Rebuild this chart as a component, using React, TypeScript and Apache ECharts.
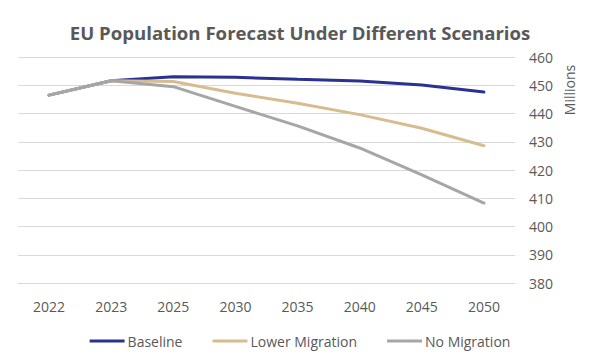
import React, { useEffect, useRef } from "react";
import * as echarts from "echarts";

const years = ["2022", "2023", "2025", "2030", "2035", "2040", "2045", "2050"];
const baseline = [446.5, 451.6, 453.0, 452.8, 452.1, 451.5, 450.1, 447.6];
const lowerMigration = [446.5, 451.6, 451.3, 447.2, 443.6, 439.6, 434.8, 428.6];
const noMigration = [446.5, 451.6, 449.5, 442.5, 435.6, 427.8, 418.3, 408.3];
const seriesNames = ["Baseline", "Lower Migration", "No Migration"];
const colors = ["#2B3190", "#D5BD8F", "#A6A6A6"];

const FONT = "'Open Sans', 'Noto Sans', sans-serif";

export default function App() {
  const ref = useRef<HTMLDivElement>(null);
  useEffect(() => {
    if (!ref.current) return;
    const chart = echarts.init(ref.current, undefined, { renderer: "svg" });
    const data = [baseline, lowerMigration, noMigration];
    chart.setOption({
      animation: false,
      backgroundColor: "#ffffff",
      title: {
        text: "EU Population Forecast Under Different Scenarios",
        left: "center",
        top: 18,
        textStyle: { fontFamily: FONT, fontSize: 18.6, fontWeight: "bold", color: "#595959" },
      },
      grid: { left: 18, right: 85, top: 57, bottom: 77 },
      legend: {
        bottom: 7,
        left: "center",
        itemWidth: 35,
        itemHeight: 3,
        itemGap: 30,
        icon: "rect",
        textStyle: { fontFamily: FONT, fontSize: 14, color: "#595959", padding: [0, 0, 0, -2] },
        data: seriesNames,
      },
      xAxis: {
        type: "category",
        data: years,
        boundaryGap: true,
        axisLine: { lineStyle: { color: "#D9D9D9", width: 1 } },
        axisTick: { show: false },
        axisLabel: { fontFamily: FONT, fontSize: 14, color: "#595959", margin: 16 },
      },
      yAxis: {
        type: "value",
        position: "right",
        min: 380,
        max: 460,
        interval: 10,
        axisLine: { show: false },
        axisTick: { show: false },
        axisLabel: { fontFamily: FONT, fontSize: 14, color: "#595959", margin: 14 },
        splitLine: { lineStyle: { color: "#D9D9D9", width: 1 } },
      },
      graphic: [
        {
          type: "text",
          x: 569,
          y: 90,
          rotation: Math.PI / 2,
          style: {
            text: "Millions",
            fontFamily: FONT,
            fontSize: 14,
            fill: "#595959",
            align: "center",
            verticalAlign: "middle",
          },
        },
      ],
      series: seriesNames.map((name, i) => ({
        name,
        type: "line",
        data: data[i],
        symbol: "none",
        lineStyle: { width: 3, color: colors[i], cap: "round" },
        itemStyle: { color: colors[i] },
      })),
    });
    return () => chart.dispose();
  }, []);
  return <div ref={ref} style={{ width: 600, height: 360, position: "absolute", left: 0, top: 0 }} />;
}
